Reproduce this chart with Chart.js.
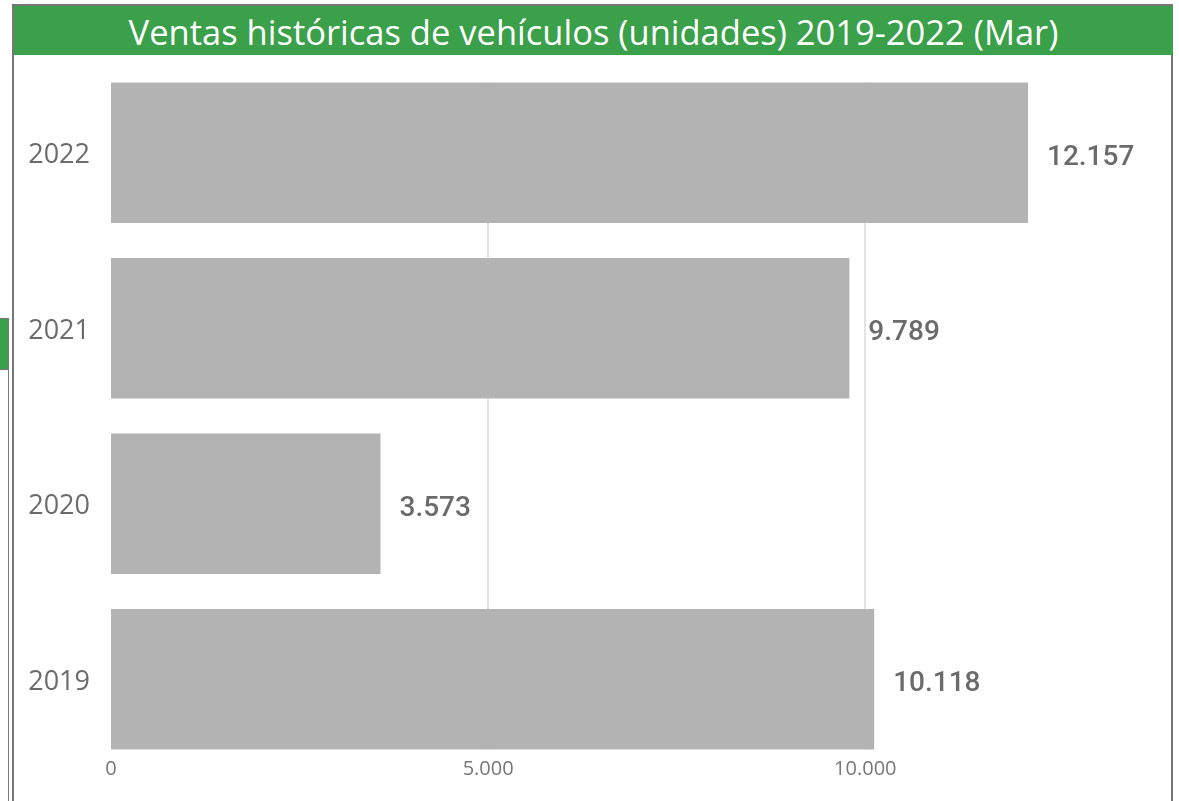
<!DOCTYPE html>
<html>
<head>
<meta charset="utf-8">
<script src="https://cdn.jsdelivr.net/npm/chart.js@4"></script>
<style>
  html, body { margin: 0; padding: 0; background: #fff; }
  body { width: 1179px; height: 801px; position: relative; overflow: hidden; font-family: "Open Sans", "Noto Sans", sans-serif; }
  .frame { position: absolute; left: 12px; top: 4px; width: 1161px; height: 820px; border: 2px solid #767676; border-bottom: none; box-sizing: border-box; }
  .header { position: absolute; left: 14px; top: 6px; width: 1159px; height: 49px; background: #3aa049; color: #fff;
            font-size: 34.5px; line-height: 51px; text-align: center; white-space: nowrap; }
  .side-tab { position: absolute; left: -2px; top: 318px; width: 10px; height: 50px; background: #3aa049; border: 1px solid #777; border-left: none; }
  .side-line { position: absolute; left: 8px; top: 318px; width: 1px; height: 490px; background: #777; }
  #wrap { position: absolute; left: 0; top: 55px; width: 1179px; height: 746px; }
</style>
</head>
<body>
<div class="frame"></div>
<div class="header">Ventas históricas de vehículos (unidades) 2019-2022 (Mar)</div>
<div class="side-tab"></div>
<div class="side-line"></div>
<div id="wrap"><canvas id="barChart"></canvas></div>

<script>
const years = ['2022', '2021', '2020', '2019'];
const ventas = [12157, 9789, 3573, 10118];
const xTicks = [0, 5000, 10000];

// formato con punto de miles (5.000)
function fmt(v) {
    return String(v).replace(/\B(?=(\d{3})+(?!\d))/g, '.');
}

// lineas verticales solo entre la primera y la ultima barra
const gridBetweenBars = {
    id: 'gridBetweenBars',
    beforeDatasetsDraw(chart) {
        const bars = chart.getDatasetMeta(0).data;
        if (!bars.length) return;
        const top = Math.min(...bars.map(b => b.y - b.height / 2));
        const bottom = Math.max(...bars.map(b => b.y + b.height / 2));
        const x = chart.scales.x;
        const ctx = chart.ctx;
        ctx.save();
        ctx.strokeStyle = '#e3e3e3';
        ctx.lineWidth = 2;
        xTicks.slice(1).forEach(v => {
            const px = Math.round(x.getPixelForValue(v));
            ctx.beginPath();
            ctx.moveTo(px, top);
            ctx.lineTo(px, bottom);
            ctx.stroke();
        });
        ctx.restore();
    }
};

// subir un poco las etiquetas del eje x (quedan pegadas a las barras)
const raiseXLabels = {
    id: 'raiseXLabels',
    afterLayout(chart) {
        chart.scales.x.top -= 10;
    }
};

const barLabels = {
    id: 'barLabels',
    afterDatasetsDraw(chart) {
        const ctx = chart.ctx;
        ctx.save();
        ctx.font = '500 28px Roboto';
        ctx.fillStyle = '#6b6b6b';
        ctx.textAlign = 'left';
        ctx.textBaseline = 'middle';
        chart.getDatasetMeta(0).data.forEach((bar, i) => {
            ctx.fillText(fmt(ventas[i]), bar.x + 19, bar.y + 5);
        });
        ctx.restore();
    }
};

new Chart(document.getElementById('barChart'), {
    type: 'bar',
    data: {
        labels: years,
        datasets: [{
            data: ventas,
            backgroundColor: '#b3b3b3',
            borderWidth: 0,
            categoryPercentage: 1,
            barPercentage: 0.8
        }]
    },
    options: {
        indexAxis: 'y',
        responsive: true,
        maintainAspectRatio: false,
        animation: false,
        layout: { padding: { top: 10, right: 12, left: 0, bottom: 0 } },
        plugins: {
            legend: { display: false },
            tooltip: { enabled: false }
        },
        scales: {
            x: {
                min: 0,
                max: 14000,
                afterBuildTicks: s => { s.ticks = xTicks.map(v => ({ value: v })); },
                afterFit: s => { s.height = 34; s.paddingLeft = 0; s.paddingRight = 0; },
                grid: { display: false, drawTicks: false },
                border: { display: false },
                ticks: {
                    padding: 0,
                    color: '#777',
                    font: { family: 'Open Sans', size: 20 },
                    maxRotation: 0,
                    callback: v => fmt(v)
                }
            },
            y: {
                afterFit: s => { s.width = 111; s.paddingTop = 0; s.paddingBottom = 0; },
                grid: { display: false, drawTicks: false },
                border: { display: false },
                ticks: {
                    padding: 21,
                    labelOffset: 3,
                    color: '#6b6b6b',
                    font: { family: 'Open Sans', size: 27 }
                }
            }
        }
    },
    plugins: [gridBetweenBars, raiseXLabels, barLabels]
});
</script>
</body>
</html>
